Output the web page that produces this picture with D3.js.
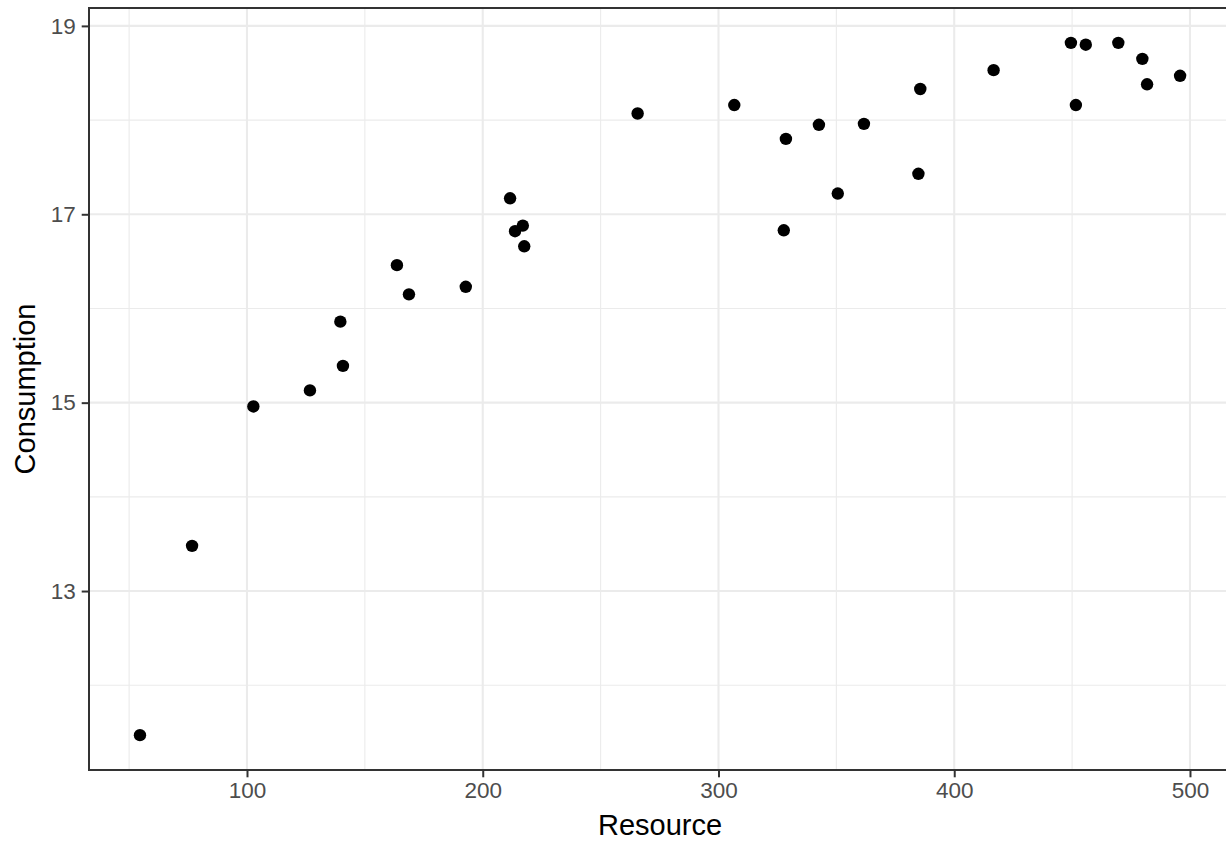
<!DOCTYPE html>
<html>
<head>
<meta charset="utf-8">
<script src="https://cdn.jsdelivr.net/npm/d3@7"></script>
<style>
  body { margin: 0; background: #fff; }
  svg { display: block; font-family: "Liberation Sans", Arial, sans-serif; }
</style>
</head>
<body>
<div id="chart"></div>
<script>
// Resource (x) and Consumption (y)
const resource = [
  54.6, 76.7, 102.7, 126.7, 139.6, 140.7, 163.6, 168.7, 192.8, 211.6,
  213.7, 217.0, 217.6, 265.7, 306.7, 327.7, 328.6, 342.6, 350.6, 361.7,
  384.8, 385.6, 416.7, 449.5, 451.6, 455.8, 469.6, 479.8, 481.8, 495.8,
];
const consumption = [
  11.47, 13.48, 14.96, 15.13, 15.86, 15.39, 16.46, 16.15, 16.23, 17.17,
  16.82, 16.88, 16.66, 18.07, 18.16, 16.83, 17.80, 17.95, 17.22, 17.96,
  17.43, 18.33, 18.53, 18.82, 18.16, 18.80, 18.82, 18.65, 18.38, 18.47,
];
const xTicks = [100, 200, 300, 400, 500];
const xMinor = [50, 150, 250, 350, 450];
const yTicks = [13, 15, 17, 19];
const yMinor = [12, 14, 16, 18];

const data = resource.map((r, i) => ({ resource: r, consumption: consumption[i] }));

const width = 1226;
const height = 841;
const margin = { top: 8, right: -5, bottom: 71, left: 89 };
const innerW = width - margin.left - margin.right;
const innerH = height - margin.top - margin.bottom;

const x = d3.scaleLinear().domain([32.98, 517.4]).range([0, innerW]);
const y = d3.scaleLinear().domain([11.1, 19.19]).range([innerH, 0]);

const svg = d3.select("#chart")
  .append("svg")
  .attr("width", width)
  .attr("height", height);

const g = svg.append("g")
  .attr("transform", `translate(${margin.left},${margin.top})`);

// grid
const grid = g.append("g").attr("stroke", "#ebebeb").attr("fill", "none");
grid.selectAll(".xminor").data(xMinor).join("line")
  .attr("x1", (d) => x(d)).attr("x2", (d) => x(d))
  .attr("y1", 0).attr("y2", innerH).attr("stroke-width", 1.1);
grid.selectAll(".yminor").data(yMinor).join("line")
  .attr("y1", (d) => y(d)).attr("y2", (d) => y(d))
  .attr("x1", 0).attr("x2", innerW).attr("stroke-width", 1.1);
grid.selectAll(".xmajor").data(xTicks).join("line")
  .attr("x1", (d) => x(d)).attr("x2", (d) => x(d))
  .attr("y1", 0).attr("y2", innerH).attr("stroke-width", 2.1);
grid.selectAll(".ymajor").data(yTicks).join("line")
  .attr("y1", (d) => y(d)).attr("y2", (d) => y(d))
  .attr("x1", 0).attr("x2", innerW).attr("stroke-width", 2.1);

// points
g.append("g")
  .selectAll("circle")
  .data(data)
  .join("circle")
  .attr("cx", (d) => x(d.resource))
  .attr("cy", (d) => y(d.consumption))
  .attr("r", 6.2)
  .attr("fill", "#000");

// panel border
g.append("rect")
  .attr("x", 0).attr("y", 0)
  .attr("width", innerW).attr("height", innerH)
  .attr("fill", "none")
  .attr("stroke", "#333333")
  .attr("stroke-width", 2);

// axes
const xAxis = g.append("g")
  .attr("transform", `translate(0,${innerH})`)
  .call(d3.axisBottom(x).tickValues(xTicks).tickSize(7.3).tickPadding(5).tickSizeOuter(0));
const yAxis = g.append("g")
  .call(d3.axisLeft(y).tickValues(yTicks).tickSize(7.3).tickPadding(6).tickSizeOuter(0));

[xAxis, yAxis].forEach((a) => {
  a.select(".domain").remove();
  a.selectAll(".tick line").attr("stroke", "#333333").attr("stroke-width", 2);
  a.selectAll(".tick text")
    .attr("fill", "#4d4d4d")
    .style("font-size", "22.5px")
    .style("font-family", '"Liberation Sans", Arial, sans-serif');
});

// axis titles
svg.append("text")
  .attr("x", margin.left + (1231 - margin.left) / 2)
  .attr("y", 835)
  .attr("text-anchor", "middle")
  .style("font-size", "29px")
  .attr("fill", "#000")
  .text("Resource");

svg.append("text")
  .attr("transform", `translate(35,${margin.top + innerH / 2}) rotate(-90)`)
  .attr("text-anchor", "middle")
  .style("font-size", "29px")
  .attr("fill", "#000")
  .text("Consumption");
</script>
</body>
</html>
